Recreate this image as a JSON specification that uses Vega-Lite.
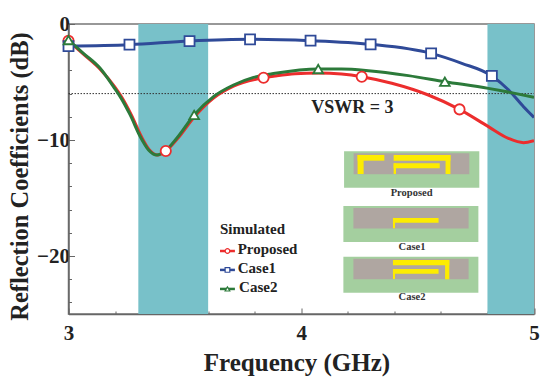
{
"$schema":"https://vega.github.io/schema/vega-lite/v6.json",
"width":465.5,"height":290,"autosize":{"type":"none"},
"padding":{"left":68.5,"top":24,"right":16,"bottom":67},
"background":"white",
"config":{"view":{"stroke":"#777","strokeWidth":1.5},"font":"Liberation Serif"},
"datasets":{
"curves":[
{"s":"Proposed","f":3.0,"db":-1.45},{"s":"Proposed","f":3.064,"db":-2.6},{"s":"Proposed","f":3.136,"db":-3.9},{"s":"Proposed","f":3.198,"db":-5.4},{"s":"Proposed","f":3.227,"db":-6.26},{"s":"Proposed","f":3.27,"db":-7.84},{"s":"Proposed","f":3.313,"db":-9.7},{"s":"Proposed","f":3.348,"db":-10.86},{"s":"Proposed","f":3.383,"db":-11.3},{"s":"Proposed","f":3.418,"db":-10.95},{"s":"Proposed","f":3.468,"db":-9.9},{"s":"Proposed","f":3.543,"db":-7.95},{"s":"Proposed","f":3.623,"db":-6.38},{"s":"Proposed","f":3.709,"db":-5.35},{"s":"Proposed","f":3.838,"db":-4.63},{"s":"Proposed","f":3.887,"db":-4.48},{"s":"Proposed","f":3.973,"db":-4.28},{"s":"Proposed","f":4.073,"db":-4.22},{"s":"Proposed","f":4.173,"db":-4.31},{"s":"Proposed","f":4.26,"db":-4.54},{"s":"Proposed","f":4.389,"db":-5.11},{"s":"Proposed","f":4.546,"db":-6.12},{"s":"Proposed","f":4.68,"db":-7.36},{"s":"Proposed","f":4.804,"db":-8.85},{"s":"Proposed","f":4.89,"db":-9.86},{"s":"Proposed","f":4.955,"db":-10.23},{"s":"Proposed","f":5.0,"db":-10.06},
{"s":"Case1","f":3.0,"db":-1.9},{"s":"Case1","f":3.262,"db":-1.78},{"s":"Case1","f":3.52,"db":-1.47},{"s":"Case1","f":3.78,"db":-1.32},{"s":"Case1","f":4.04,"db":-1.44},{"s":"Case1","f":4.298,"db":-1.75},{"s":"Case1","f":4.558,"db":-2.53},{"s":"Case1","f":4.69,"db":-3.39},{"s":"Case1","f":4.819,"db":-4.48},{"s":"Case1","f":4.891,"db":-5.69},{"s":"Case1","f":4.955,"db":-7.13},{"s":"Case1","f":5.0,"db":-8.05},
{"s":"Case2","f":3.0,"db":-1.38},{"s":"Case2","f":3.064,"db":-2.53},{"s":"Case2","f":3.136,"db":-3.82},{"s":"Case2","f":3.193,"db":-5.4},{"s":"Case2","f":3.222,"db":-6.26},{"s":"Case2","f":3.265,"db":-7.84},{"s":"Case2","f":3.308,"db":-9.7},{"s":"Case2","f":3.344,"db":-10.86},{"s":"Case2","f":3.38,"db":-11.3},{"s":"Case2","f":3.418,"db":-10.9},{"s":"Case2","f":3.465,"db":-9.85},{"s":"Case2","f":3.54,"db":-7.84},{"s":"Case2","f":3.623,"db":-6.26},{"s":"Case2","f":3.709,"db":-5.26},{"s":"Case2","f":3.795,"db":-4.6},{"s":"Case2","f":3.888,"db":-4.25},{"s":"Case2","f":4.073,"db":-3.88},{"s":"Case2","f":4.173,"db":-3.88},{"s":"Case2","f":4.288,"db":-4.02},{"s":"Case2","f":4.46,"db":-4.45},{"s":"Case2","f":4.617,"db":-4.97},{"s":"Case2","f":4.804,"db":-5.55},{"s":"Case2","f":4.918,"db":-5.98},{"s":"Case2","f":5.0,"db":-6.32}
],
"markers":[
{"s":"Proposed","f":3.0,"db":-1.45},{"s":"Proposed","f":3.418,"db":-10.95},{"s":"Proposed","f":3.838,"db":-4.63},{"s":"Proposed","f":4.26,"db":-4.54},{"s":"Proposed","f":4.68,"db":-7.36},
{"s":"Case1","f":3.0,"db":-1.9},{"s":"Case1","f":3.262,"db":-1.78},{"s":"Case1","f":3.52,"db":-1.47},{"s":"Case1","f":3.78,"db":-1.32},{"s":"Case1","f":4.04,"db":-1.44},{"s":"Case1","f":4.298,"db":-1.75},{"s":"Case1","f":4.558,"db":-2.53},{"s":"Case1","f":4.819,"db":-4.48},
{"s":"Case2","f":3.0,"db":-1.38},{"s":"Case2","f":3.54,"db":-7.84},{"s":"Case2","f":4.073,"db":-3.88},{"s":"Case2","f":4.617,"db":-4.97}
],
"legendMarkers":[{"s":"Proposed","f":3.683,"db":-19.57},{"s":"Case1","f":3.683,"db":-21.2},{"s":"Case2","f":3.683,"db":-22.84}],
"legendLines":[{"s":"Proposed","f":3.651,"f2":3.715,"db":-19.57},{"s":"Case1","f":3.651,"f2":3.715,"db":-21.2},{"s":"Case2","f":3.651,"f2":3.715,"db":-22.84}],
"bands":[{"f":3.3,"f2":3.6},{"f":4.8,"f2":5.0}],
"substrate":[{"f":4.184,"f2":4.765,"a":-10.98,"b":-14.11},{"f":4.181,"f2":4.761,"a":-15.69,"b":-18.79},{"f":4.181,"f2":4.761,"a":-20.06,"b":-23.16}],
"ground":[{"f":4.225,"f2":4.722,"a":-11.15,"b":-12.96},{"f":4.224,"f2":4.719,"a":-15.86,"b":-17.64},{"f":4.224,"f2":4.719,"a":-20.23,"b":-22.01}],
"patch":[
{"f":4.242,"f2":4.268,"a":-11.29,"b":-12.93},{"f":4.242,"f2":4.357,"a":-11.29,"b":-11.78},{"f":4.397,"f2":4.641,"a":-11.29,"b":-11.78},{"f":4.62,"f2":4.641,"a":-11.29,"b":-12.93},{"f":4.397,"f2":4.595,"a":-12.01,"b":-12.44},{"f":4.397,"f2":4.407,"a":-12.01,"b":-12.93},
{"f":4.394,"f2":4.59,"a":-16.72,"b":-17.13},{"f":4.394,"f2":4.403,"a":-16.72,"b":-17.61},
{"f":4.394,"f2":4.636,"a":-20.34,"b":-20.8},{"f":4.618,"f2":4.636,"a":-20.34,"b":-22.01},{"f":4.394,"f2":4.59,"a":-21.12,"b":-21.52},{"f":4.394,"f2":4.403,"a":-21.12,"b":-21.98}
],
"captions":[{"t":"Proposed","f":4.474,"db":-14.6},{"t":"Case1","f":4.476,"db":-19.2},{"t":"Case2","f":4.476,"db":-23.53}],
"legendText":[{"t":"Simulated","f":3.651,"db":-17.7},{"t":"Proposed","f":3.727,"db":-19.37},{"t":"Case1","f":3.727,"db":-21.03},{"t":"Case2","f":3.733,"db":-22.67}],
"note":[{"t":"VSWR = 3","f":4.22,"db":-7.2}],
"vswr":[{"f":3,"db":-6},{"f":5,"db":-6}]
},
"encoding":{
"x":{"field":"f","type":"quantitative","scale":{"domain":[3,5],"nice":false,"zero":false},
"axis":{"title":"Frequency (GHz)","values":[3,3.2,3.4,3.6,3.8,4,4.2,4.4,4.6,4.8,5],"grid":false,"labelFlush":false,"labelExpr":"abs(datum.value-round(datum.value))<0.01 ? format(datum.value,'d') : ''","labelFont":"Liberation Serif","labelFontWeight":"bold","labelFontSize":21,"labelColor":"#222","labelPadding":14,"labelOverlap":false,"tickColor":"#666","tickWidth":1,"tickSize":{"condition":{"test":"abs(datum.value-round(datum.value))<0.01","value":-6},"value":-3},"domainColor":"#666","domainWidth":1.5,"titleFont":"Liberation Serif","titleFontWeight":"bold","titleFontSize":25,"titleColor":"#222","titlePadding":4,"titleX":228}},
"y":{"field":"db","type":"quantitative","scale":{"domain":[-25,0],"nice":false,"zero":false},
"axis":{"title":"Reflection Coefficients (dB)","values":[0,-2,-4,-6,-8,-10,-12,-14,-16,-18,-20,-22,-24],"grid":false,"labelFlush":false,"labelExpr":"datum.value==0 ? '0' : datum.value%10==0 ? '\u2212'+format(-datum.value,'d') : ''","labelFont":"Liberation Serif","labelFontWeight":"bold","labelFontSize":21,"labelColor":"#222","labelPadding":5,"labelOverlap":false,"tickColor":"#666","tickWidth":1,"tickSize":{"condition":{"test":"datum.value%10==0","value":-6},"value":-3},"domainColor":"#666","domainWidth":1.5,"titleFont":"Liberation Serif","titleFontWeight":"bold","titleFontSize":24.5,"titleColor":"#222","titlePadding":4,"titleY":152}}
},
"layer":[
{"data":{"name":"bands"},"mark":{"type":"rect","color":"#78c1c9"},"encoding":{"x":{"field":"f","type":"quantitative"},"x2":{"field":"f2"},"y":{"value":0},"y2":{"value":290}}},
{"data":{"name":"vswr"},"mark":{"type":"line","color":"#333","strokeWidth":1,"strokeDash":[1.5,1.5]},"encoding":{}},
{"data":{"name":"curves"},"mark":{"type":"line","interpolate":"monotone","strokeWidth":3,"clip":true},"encoding":{"color":{"field":"s","type":"nominal","scale":{"domain":["Proposed","Case1","Case2"],"range":["#ec2d2d","#2f4a98","#2c7a3a"]},"legend":null},"detail":{"field":"s"}}},
{"data":{"name":"legendLines"},"mark":{"type":"rule","strokeWidth":2.5},"encoding":{"x":{"field":"f","type":"quantitative"},"x2":{"field":"f2"},"color":{"field":"s","type":"nominal","legend":null}}},
{"data":{"name":"markers"},"mark":{"type":"point","filled":true,"fill":"white","strokeWidth":1.8,"opacity":1},"encoding":{"size":{"field":"s","type":"nominal","scale":{"domain":["Proposed","Case1","Case2"],"range":[105,95,170]},"legend":null},"stroke":{"field":"s","type":"nominal","scale":{"domain":["Proposed","Case1","Case2"],"range":["#ec2d2d","#2f4a98","#2c7a3a"]},"legend":null},"shape":{"field":"s","type":"nominal","scale":{"domain":["Proposed","Case1","Case2"],"range":["circle","square","triangle-up"]},"legend":null}}},
{"data":{"name":"legendMarkers"},"mark":{"type":"point","filled":true,"fill":"white","strokeWidth":1.2,"size":22,"opacity":1},"encoding":{"stroke":{"field":"s","type":"nominal","legend":null},"shape":{"field":"s","type":"nominal","legend":null}}},
{"data":{"name":"substrate"},"mark":{"type":"rect","color":"#a4cf9f"},"encoding":{"x":{"field":"f","type":"quantitative"},"x2":{"field":"f2"},"y":{"field":"a","type":"quantitative"},"y2":{"field":"b"}}},
{"data":{"name":"ground"},"mark":{"type":"rect","color":"#afa6a1"},"encoding":{"x":{"field":"f","type":"quantitative"},"x2":{"field":"f2"},"y":{"field":"a","type":"quantitative"},"y2":{"field":"b"}}},
{"data":{"name":"patch"},"mark":{"type":"rect","color":"#fdec00"},"encoding":{"x":{"field":"f","type":"quantitative"},"x2":{"field":"f2"},"y":{"field":"a","type":"quantitative"},"y2":{"field":"b"}}},
{"data":{"name":"captions"},"mark":{"type":"text","font":"Liberation Serif","fontWeight":"bold","fontSize":10.5,"color":"#333"},"encoding":{"text":{"field":"t"}}},
{"data":{"name":"legendText"},"mark":{"type":"text","font":"Liberation Serif","fontWeight":"bold","fontSize":15,"color":"#222","align":"left"},"encoding":{"text":{"field":"t"}}},
{"data":{"name":"note"},"mark":{"type":"text","font":"Liberation Serif","fontWeight":"bold","fontSize":18,"color":"#222"},"encoding":{"text":{"field":"t"}}}
]
}
